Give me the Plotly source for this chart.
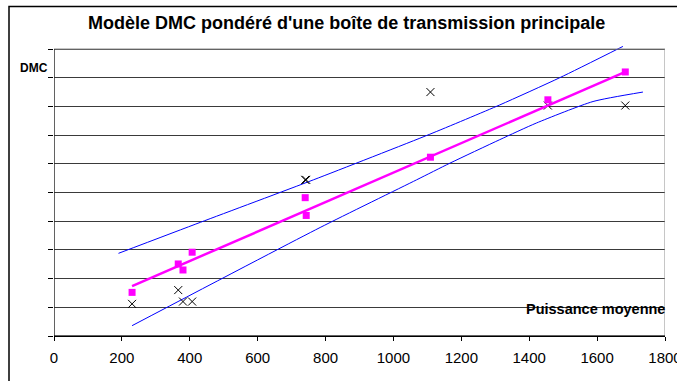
import plotly.graph_objects as go

# ---- data ----
x_pts = [230, 366, 380, 407, 740, 743, 1109, 1455, 1683]
y_obs = [1.12, 1.60, 1.20, 1.20, 5.44, 5.44, 8.50, 8.03, 8.03]
y_model = [1.52, 2.51, 2.30, 2.92, 4.82, 4.20, 6.23, 8.23, 9.20]

fit_x = [230, 1683]
fit_y = [1.74, 9.20]

upper_x = [190, 431, 764, 1107, 1313, 1490, 1676]
upper_y = [2.88, 3.96, 5.44, 7.03, 8.05, 9.00, 10.09]

lower_x = [230, 784, 1068, 1166, 1313, 1421, 1588, 1735]
lower_y = [0.36, 3.78, 5.44, 6.02, 6.84, 7.42, 8.17, 8.50]

x_ticks = [0, 200, 400, 600, 800, 1000, 1200, 1400, 1600, 1800]
y_ticks = list(range(0, 11))

title_text = "Modèle DMC pondéré d'une boîte de transmission principale"
y_label = "DMC"
x_label = "Puissance moyenne"

# ---- layout geometry ----
W, H = 677, 381
ML, MR, MT, MB = 54, 12, 43, 45
PW, PH = W - ML - MR, H - MT - MB
Y_TOP = 10 * PH / 287.0  # 10 units span 287 px

def px(xp):
    return (xp - ML) / PW

def py(yp):
    return (H - MB - yp) / PH

FONT = "Liberation Sans, Arial, sans-serif"

fig = go.Figure()
fig.add_trace(go.Scatter(x=upper_x, y=upper_y, mode="lines",
                         line=dict(color="#0000FF", width=1, shape="spline", smoothing=0.6),
                         hoverinfo="skip"))
fig.add_trace(go.Scatter(x=lower_x, y=lower_y, mode="lines",
                         line=dict(color="#0000FF", width=1, shape="spline", smoothing=0.6),
                         hoverinfo="skip"))
fig.add_trace(go.Scatter(x=x_pts, y=y_obs, mode="markers",
                         marker=dict(symbol="x-thin", size=8, color="black",
                                     line=dict(color="black", width=1))))
fig.add_trace(go.Scatter(x=fit_x, y=fit_y, mode="lines",
                         line=dict(color="#FF00FF", width=2.5)))
fig.add_trace(go.Scatter(x=x_pts, y=y_model, mode="markers",
                         marker=dict(symbol="square", size=7, color="#FF00FF",
                                     line=dict(width=0))))

fig.update_layout(
    width=W, height=H,
    margin=dict(l=ML, r=MR, t=MT, b=MB, pad=0, autoexpand=False),
    paper_bgcolor="white", plot_bgcolor="white",
    showlegend=False,
    font=dict(family=FONT, color="black"),
    xaxis=dict(range=[0, 1800], tickvals=x_ticks, ticktext=[str(v) for v in x_ticks],
               ticks="outside", ticklen=4, tickcolor="black",
               ticklabelstandoff=4, ticklabeloverflow="allow", automargin=False,
               showline=True, linecolor="black", linewidth=1,
               showgrid=False, zeroline=False,
               tickfont=dict(size=15, family=FONT, color="black")),
    yaxis=dict(range=[0, Y_TOP], tickvals=y_ticks, showticklabels=False,
               ticks="outside", ticklen=5, tickcolor="black", automargin=False,
               showline=False, showgrid=True, gridcolor="#3a3a3a", gridwidth=1,
               zeroline=False),
    shapes=[
        # plot frame (top/right grey)
        dict(type="rect", xref="x", yref="y", x0=0, x1=1800, y0=0, y1=10,
             line=dict(color="#8c8c8c", width=1), layer="above"),
        # y axis line
        dict(type="line", xref="x", yref="y", x0=0, x1=0, y0=0, y1=10,
             line=dict(color="black", width=1), layer="above"),
        # x axis line
        dict(type="line", xref="x", yref="y", x0=0, x1=1800, y0=0, y1=0,
             line=dict(color="black", width=1), layer="above"),
        # outer chart border
        dict(type="rect", xref="paper", yref="paper",
             x0=px(9), x1=px(700), y0=py(400), y1=py(6.5),
             line=dict(color="black", width=1.5)),
    ],
    annotations=[
        dict(text="<b>" + title_text + "</b>", xref="paper", yref="paper",
             x=px(346.5), y=py(23), xanchor="center", yanchor="middle",
             showarrow=False, font=dict(size=18, family=FONT, color="black")),
        dict(text="<b>" + y_label + "</b>", xref="paper", yref="paper",
             x=px(34), y=py(68), xanchor="center", yanchor="middle",
             showarrow=False, font=dict(size=12, family=FONT, color="black")),
        dict(text="<b>" + x_label + "</b>", xref="paper", yref="paper",
             x=px(667), y=py(309), xanchor="right", yanchor="middle",
             showarrow=False, font=dict(size=14.5, family=FONT, color="black")),
    ],
)

fig.write_html("out.html")
